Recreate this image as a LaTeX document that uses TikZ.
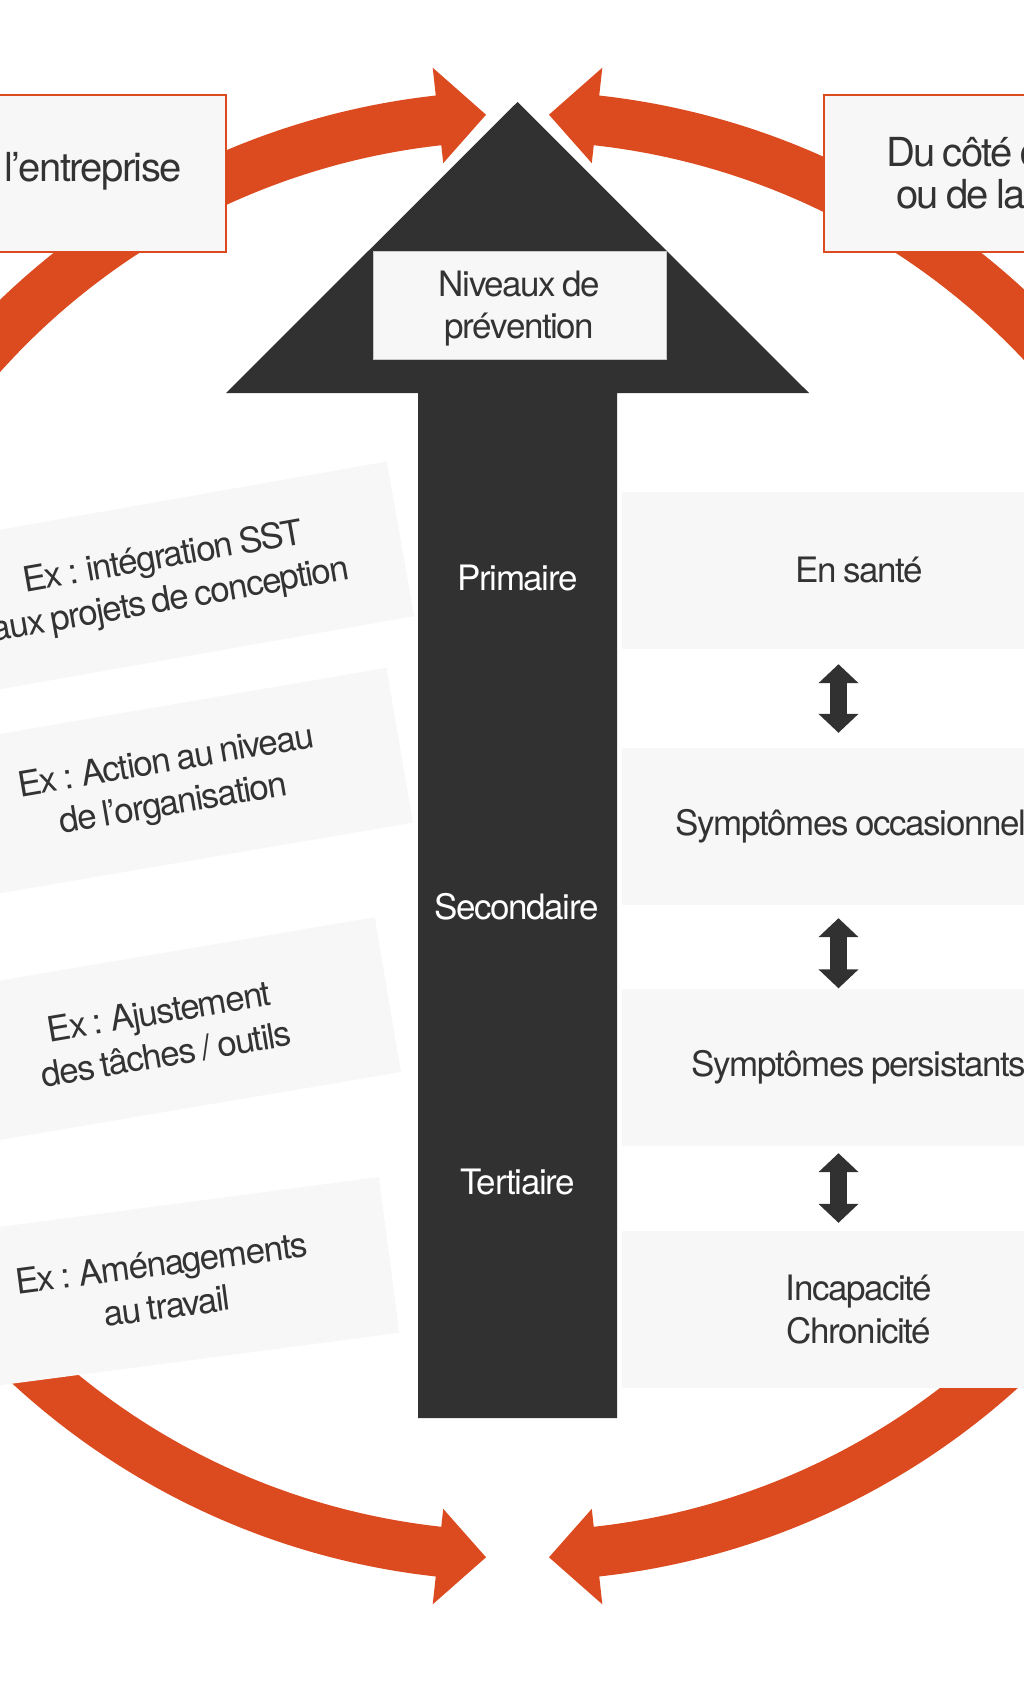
\documentclass[tikz,border=0pt]{standalone}
\usepackage{fontspec}
\setmainfont[LetterSpace=-4,WordSpace=0.75]{TeX Gyre Heros}
\usetikzlibrary{arrows.meta,calc}
\definecolor{orng}{HTML}{DC4A20}
\definecolor{blk}{HTML}{313131}
\definecolor{txt}{HTML}{333333}
\definecolor{pale}{HTML}{F7F7F7}
\newcommand\ringarrow[3]{%
  \fill[orng] ($(C)+(#1:745)$) arc[start angle=#1,end angle=#2,radius=745]
    -- ($(C)+(#2:773)$) -- ($(C)+(#3:722)$) -- ($(C)+(#2:677)$)
    -- ($(C)+(#2:695)$) arc[start angle=#2,end angle=#1,radius=695] -- cycle;}
\begin{document}
\begin{tikzpicture}[x=1pt,y=1pt,
  obox/.style={rectangle, draw=orng, line width=2pt, fill=pale, minimum height=157pt,
    text=txt, font=\fontsize{40}{42}\selectfont},
  graybox/.style={rectangle, fill=pale, minimum height=157pt, inner sep=0pt,
    text=txt, align=center, font=\fontsize{35}{43}\selectfont},
  lvl/.style={text=white, inner sep=0pt, font=\fontsize{35}{43}\selectfont},
  nivbox/.style={rectangle, fill=pale, draw=black!22, line width=1pt,
    minimum width=293pt, minimum height=107pt, text=txt, align=center,
    font=\fontsize{35}{43}\selectfont},
  dbl/.style={draw=blk, line width=17pt,
    {Triangle[width=39pt,length=19pt]}-{Triangle[width=39pt,length=19pt]}}
]
\useasboundingbox (0,0) rectangle (1024,-1696);
\clip (0,0) rectangle (1024,-1696);
\fill[white] (0,0) rectangle (1024,-1696);

% orange ring of arrows
\coordinate (C) at (517.5,-836);
\ringarrow{120}{96.3}{92.5}
\ringarrow{120}{263.7}{267.5}
\ringarrow{60}{83.7}{87.5}
\ringarrow{60}{-83.7}{-87.5}

% top boxes
\node[obox, minimum width=560pt, anchor=east, inner sep=0pt] (lb) at (227,-173.5) {};
\node[text=txt, font=\fontsize{40}{42}\selectfont, anchor=east, inner sep=0pt]
  (lbt) at (182,-171) {Du côté de l’entreprise};
\node[obox, anchor=west, align=center, inner xsep=62pt] (rb)
  at (823,-173.5) {Du côté du travailleur\\ou de la travailleuse};

% left examples
\node[graybox, minimum width=474pt, rotate=10] (l1) at (167,-580)
  {Ex : intégration SST\\aux projets de conception};
\node[graybox, minimum width=466pt, rotate=9.7] (l2) at (170,-784.5)
  {Ex : Action au niveau\\de l’organisation};
\node[graybox, minimum width=457pt, rotate=9.6] (l3) at (162.5,-1032.7)
  {Ex : Ajustement\\des tâches / outils};
\node[graybox, minimum width=454pt, rotate=7.5] (l4) at (164,-1284.5)
  {Ex : Aménagements\\au travail};

% right states
\node[graybox, minimum width=474pt] (r1) at (859,-570.5) {En santé};
\node[graybox, minimum width=474pt] (r2) at (859,-826.5) {Symptômes occasionnels};
\node[graybox, minimum width=474pt] (r3) at (859,-1067.5) {Symptômes persistants};
\node[graybox, minimum width=474pt] (r4) at (859,-1309.5) {Incapacité\\Chronicité};

\draw[dbl, shorten <=15pt, shorten >=15pt] ([xshift=-20.5pt]r1.south) -- ([xshift=-20.5pt]r2.north);
\draw[dbl, shorten <=13pt, shorten >=0.5pt] ([xshift=-20.5pt]r2.south) -- ([xshift=-20.5pt]r3.north);
\draw[dbl, shorten <=7pt, shorten >=8pt] ([xshift=-20.5pt]r3.south) -- ([xshift=-20.5pt]r4.north);

% central black arrow
\fill[blk] (517.5,-102) -- (809,-393) -- (617,-393) -- (617,-1418)
  -- (418,-1418) -- (418,-393) -- (226,-393) -- cycle;
\node[nivbox] (niv) at (519.5,-305.5) {};
\node[text=txt, align=center, font=\fontsize{35}{42}\selectfont, inner sep=0pt]
  (nivt) at (519.5,-309) {Niveaux de\\prévention};
\node[lvl] (prim) at (517.5,-578) {Primaire};
\node[lvl] (sec) at (516.5,-907) {Secondaire};
\node[lvl] (ter) at (517.5,-1182) {Tertiaire};
\end{tikzpicture}
\end{document}
